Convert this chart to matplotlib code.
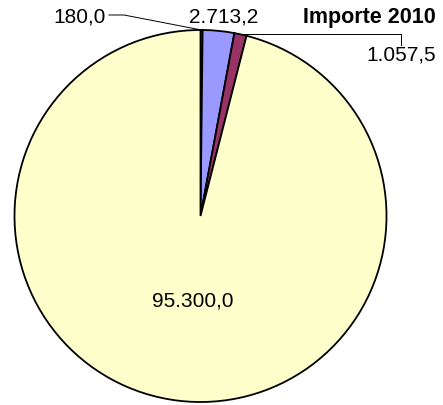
import numpy as np
import matplotlib
matplotlib.use('Agg')
import matplotlib.pyplot as plt

# datos
etiquetas = ['180,0', '2.713,2', '1.057,5', '95.300,0']
valores = [180.0, 2713.2, 1057.5, 95300.0]
colores = ['#CCFFFF', '#9999FF', '#993366', '#FFFFCC']
titulo = 'Importe 2010'

plt.rcParams['font.family'] = ['Liberation Sans', 'DejaVu Sans']

W, H = 443, 405
fig = plt.figure(figsize=(W / 100, H / 100), dpi=100)
ax = fig.add_axes([0, 0, 1, 1])
ax.set_xlim(0, W)
ax.set_ylim(0, H)
ax.set_aspect('equal')
ax.axis('off')


def py(y):
    # coordenada y en pixeles desde arriba
    return H - y


cx, cy, r = 200.5, 216, 186
wedges, _ = ax.pie(valores, colors=colores, startangle=90, counterclock=False,
                   center=(cx, py(cy)), radius=r,
                   wedgeprops=dict(edgecolor='black', linewidth=1.3))
ax.set_xlim(0, W)
ax.set_ylim(0, H)


def ancla(i, f=1.0):
    w = wedges[i]
    a = np.deg2rad((w.theta1 + w.theta2) / 2)
    return cx + f * r * np.cos(a), py(cy) + f * r * np.sin(a)


fs = 15
# 180,0
x0, y0 = ancla(0)
ax.text(106, py(17), etiquetas[0], fontsize=fs, ha='right', va='center')
ax.plot([109, 124, x0], [py(15), py(15), y0], color='black', lw=0.7)

# 2.713,2
ax.text(224, py(17), etiquetas[1], fontsize=fs, ha='center', va='center')

# 1.057,5
x2, y2 = ancla(2)
ax.plot([x2, 401, 401], [y2, y2, py(45)], color='black', lw=0.7)
ax.text(401, py(55), etiquetas[2], fontsize=fs, ha='center', va='center')

# 95.300,0
ax.text(192.5, py(301), etiquetas[3], fontsize=fs, ha='center', va='center')

# titulo
ax.text(303, py(17), titulo, fontsize=15.5, fontweight='bold', ha='left', va='center')

fig.savefig('out.png', dpi=100)
